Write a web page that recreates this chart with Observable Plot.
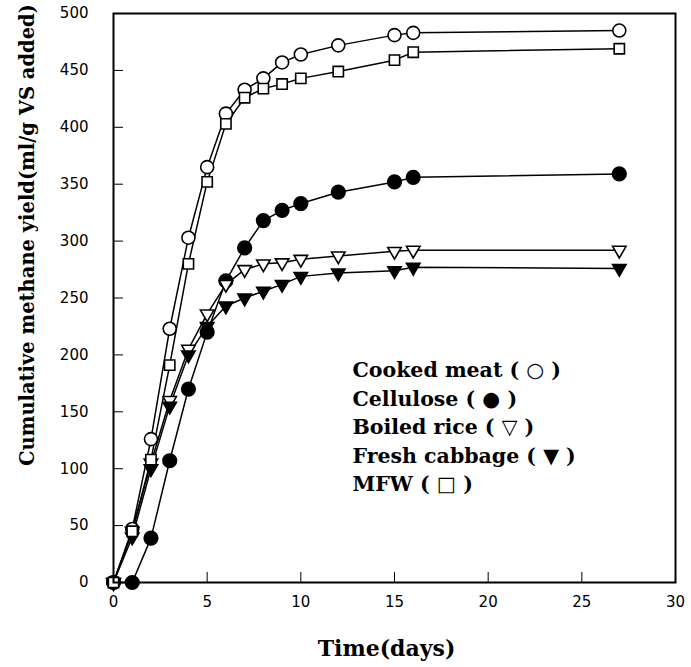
<!DOCTYPE html>
<html>
<head>
<meta charset="utf-8">
<script src="https://cdn.jsdelivr.net/npm/d3@7"></script>
<script src="https://cdn.jsdelivr.net/npm/@observablehq/plot@0.6"></script>
<style>
  html, body { margin: 0; padding: 0; background: #fff; }
  #chart svg { display: block; }
</style>
</head>
<body>
<div id="chart"></div>
<script>
const days = [0, 1, 2, 3, 4, 5, 6, 7, 8, 9, 10, 12, 15, 16, 27];
const cookedMeat = [0, 47, 126, 223, 303, 365, 412, 433, 443, 457, 464, 472, 481, 483, 485];
const cellulose = [0, 0, 39, 107, 170, 220, 265, 294, 318, 327, 333, 343, 352, 356, 359];
const boiledRice = [0, 45, 105, 160, 205, 236, 262, 275, 280, 281, 284, 287, 291, 292, 292];
const freshCabbage = [0, 40, 100, 155, 200, 225, 243, 250, 256, 262, 269, 272, 274, 277, 276];
const mfw = [0, 45, 108, 191, 280, 352, 403, 426, 434, 438, 443, 449, 459, 466, 469];

const seriesNames = ["Cooked meat", "Cellulose", "Boiled rice", "Fresh cabbage", "MFW"];
const legendLabels = ["Cooked meat ( \u25CB )", "Cellulose ( \u25CF )", "Boiled rice ( \u25BD )", "Fresh cabbage ( \u25BC )", "MFW ( \u25A1 )"];
const xTicks = [0, 5, 10, 15, 20, 25, 30];
const yTicks = [0, 50, 100, 150, 200, 250, 300, 350, 400, 450, 500];
const xLabel = "Time(days)";
const yLabel = "Cumulative methane yield(ml/g VS added)";

const seriesValues = [cookedMeat, cellulose, boiledRice, freshCabbage, mfw];
const styles = [
  {symbol: "circle", fill: "white", r: 6.5, rotate: 0},
  {symbol: "circle", fill: "black", r: 6.8, rotate: 0},
  {symbol: "triangle", fill: "white", r: 5.0, rotate: 180},
  {symbol: "triangle", fill: "black", r: 5.0, rotate: 180},
  {symbol: "square", fill: "white", r: 5.8, rotate: 0}
];

const tables = seriesValues.map((vals, k) => days.map((d, i) => ({day: d, value: vals[i], series: seriesNames[k]})));

const serif = "'DejaVu Serif', serif";
const marks = [];
tables.forEach((t) => {
  marks.push(Plot.line(t, {x: "day", y: "value", stroke: "black", strokeWidth: 1.5}));
});
tables.forEach((t, k) => {
  const s = styles[k];
  marks.push(Plot.dot(t, {x: "day", y: "value", symbol: s.symbol, r: s.r, fill: s.fill, stroke: "black", strokeWidth: 1.6, rotate: s.rotate}));
});
marks.push(Plot.frame({stroke: "black", strokeWidth: 2}));
marks.push(Plot.axisX({ticks: xTicks, tickSize: -10, tickPadding: 24, label: null, fontSize: 15, tickFormat: d3.format("d")}));
marks.push(Plot.axisY({ticks: yTicks, tickSize: -10, tickPadding: 35, label: null, fontSize: 15, tickFormat: d3.format("d")}));
marks.push(Plot.text([xLabel], {frameAnchor: "bottom", dx: -8, dy: 66, textAnchor: "middle", fontSize: 22, fontWeight: "bold", fontFamily: serif, lineAnchor: "middle"}));
marks.push(Plot.text([yLabel], {frameAnchor: "left", dx: -86, dy: -63, rotate: -90, textAnchor: "middle", fontSize: 19.5, fontWeight: "bold", fontFamily: serif, lineAnchor: "middle"}));
legendLabels.forEach((lab, i) => {
  marks.push(Plot.text([lab], {frameAnchor: "top-left", dx: 239, dy: 357 + i * 28.5, textAnchor: "start", lineAnchor: "middle", fontSize: 20.5, fontWeight: "bold", fontFamily: serif}));
});

const chart = Plot.plot({
  width: 691,
  height: 667,
  marginLeft: 113,
  marginRight: 16,
  marginTop: 13,
  marginBottom: 85,
  style: {fontFamily: "'DejaVu Sans', sans-serif", color: "black", background: "white", overflow: "visible"},
  x: {domain: [0, 30], axis: null},
  y: {domain: [0, 500], axis: null},
  marks
});
document.getElementById("chart").appendChild(chart);
</script>
</body>
</html>
